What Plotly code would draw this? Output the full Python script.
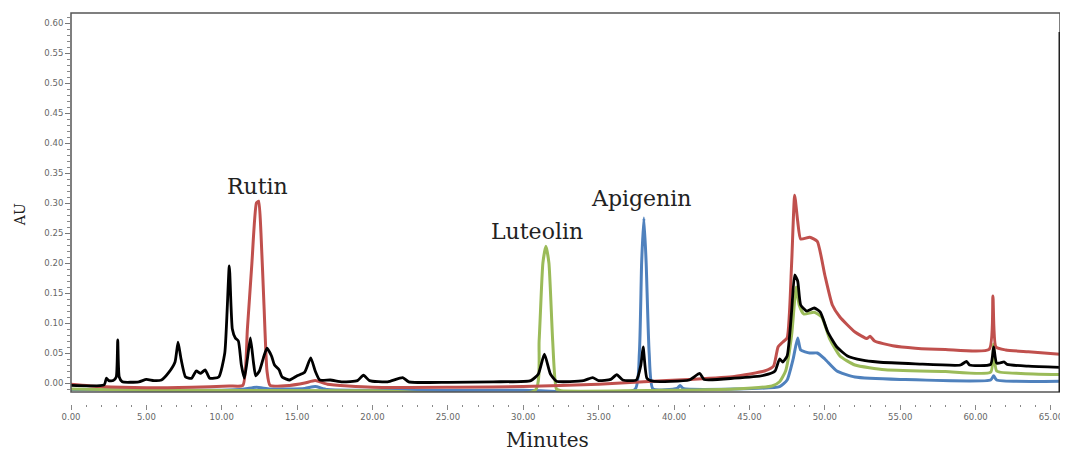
import plotly.graph_objects as go

# ---------------- data (minutes, AU) ----------------
black_t = [0.0, 2.2, 2.35, 2.5, 2.8, 3.0, 3.1, 3.2, 3.4, 4.5, 5.0, 5.5, 6.0, 6.5, 6.9, 7.1, 7.3, 7.6,
           8.0, 8.3, 8.6, 8.9, 9.2, 9.8, 10.2, 10.5, 10.7, 10.9, 11.1, 11.3, 11.5, 11.7, 11.9, 12.1,
           12.25, 12.5, 12.8, 13.0, 13.3, 13.5, 13.8, 14.0, 14.5, 15.0, 15.5, 15.9, 16.2, 16.5, 17.2,
           18.0, 19.0, 19.4, 19.8, 21.0, 22.0, 22.4, 25.0, 28.0, 30.5, 31.0, 31.4, 31.8, 32.2, 34.0,
           34.6, 35.0, 35.8, 36.2, 36.6, 37.5, 37.8, 37.95, 38.2, 38.6, 41.0, 41.7, 42.0, 44.0, 46.0,
           46.7, 47.0, 47.2, 47.5, 47.8, 48.0, 48.2, 48.4, 48.8, 49.3, 49.7, 50.2, 50.8, 51.5, 52.5,
           53.5, 56.0, 59.0, 59.4, 59.6, 61.0, 61.2, 61.4, 61.9, 62.1, 63.5, 65.6]
black_v = [-0.004, -0.003, 0.008, 0.004, 0.004, 0.010, 0.072, 0.010, 0.002, 0.002, 0.006, 0.004, 0.005,
           0.018, 0.035, 0.068, 0.040, 0.010, 0.008, 0.020, 0.016, 0.022, 0.008, 0.010, 0.050, 0.195,
           0.090, 0.075, 0.070, 0.030, 0.008, 0.040, 0.075, 0.035, 0.012, 0.020, 0.045, 0.058, 0.045,
           0.030, 0.022, 0.010, 0.005, 0.012, 0.018, 0.042, 0.020, 0.005, 0.005, 0.002, 0.004, 0.013,
           0.004, 0.002, 0.009, 0.002, 0.001, 0.002, 0.004, 0.015, 0.048, 0.015, 0.003, 0.004, 0.009,
           0.004, 0.006, 0.014, 0.005, 0.005, 0.030, 0.060, 0.008, 0.003, 0.005, 0.016, 0.006, 0.008,
           0.013, 0.020, 0.040, 0.035, 0.045, 0.120, 0.180, 0.170, 0.130, 0.120, 0.125, 0.118, 0.085,
           0.060, 0.045, 0.038, 0.035, 0.032, 0.030, 0.036, 0.030, 0.031, 0.060, 0.033, 0.035, 0.031,
           0.028, 0.026]

rutin_t = [0.0, 2.0, 5.0, 8.0, 10.5, 11.4, 11.7, 12.0, 12.3, 12.45, 12.6, 12.8, 13.0, 13.2, 14.5, 15.5,
           16.2, 17.0, 20.0, 30.0, 35.0, 38.0, 41.0, 44.0, 46.0, 46.6, 46.9, 47.2, 47.5, 47.8, 48.0,
           48.2, 48.4, 49.0, 49.5, 50.0, 50.5, 51.0, 52.0, 52.8, 53.0, 53.3, 54.5, 56.0, 58.0, 60.9,
           61.15, 61.35, 62.0, 63.5, 65.6]
rutin_v = [-0.002, -0.006, -0.008, -0.007, -0.005, -0.004, 0.090, 0.200, 0.300, 0.303, 0.250, 0.130,
           0.020, -0.004, -0.004, 0.000, 0.004, -0.002, -0.007, -0.006, -0.002, 0.002, 0.006, 0.011,
           0.020, 0.028, 0.060, 0.068, 0.075, 0.200, 0.313, 0.270, 0.240, 0.243, 0.236, 0.180, 0.130,
           0.110, 0.085, 0.074, 0.078, 0.070, 0.062, 0.058, 0.056, 0.056, 0.145, 0.060, 0.055, 0.052,
           0.048]

luteolin_t = [0.0, 5.0, 20.0, 30.8, 31.05, 31.3, 31.5, 31.7, 31.95, 32.2, 32.5, 40.0, 44.0, 46.5, 47.0,
              47.4, 47.8, 48.1, 48.3, 48.6, 49.3, 49.8, 50.3, 51.0, 52.0, 54.0, 58.0, 61.0, 61.2, 61.4,
              63.0, 65.6]
luteolin_v = [-0.010, -0.012, -0.013, -0.012, 0.070, 0.200, 0.228, 0.200, 0.070, -0.010, -0.013, -0.012,
              -0.010, -0.005, 0.002, 0.020, 0.080, 0.160, 0.130, 0.115, 0.118, 0.110, 0.075, 0.045,
              0.030, 0.022, 0.019, 0.018, 0.065, 0.020, 0.016, 0.014]

apigenin_t = [0.0, 10.0, 11.5, 12.3, 13.2, 15.5, 16.2, 17.0, 30.0, 37.4, 37.7, 37.85, 38.0, 38.15,
              38.35, 38.6, 40.2, 40.4, 40.6, 44.0, 47.0, 47.5, 47.9, 48.2, 48.4, 49.0, 49.5, 50.0,
              50.8, 52.0, 55.0, 61.0, 61.2, 61.4, 65.6]
apigenin_v = [-0.011, -0.012, -0.010, -0.007, -0.010, -0.009, -0.006, -0.011, -0.012, -0.011, 0.050,
              0.200, 0.275, 0.200, 0.050, -0.010, -0.009, -0.004, -0.009, -0.010, -0.006, 0.005, 0.040,
              0.075, 0.055, 0.050, 0.050, 0.040, 0.020, 0.010, 0.006, 0.005, 0.012, 0.005, 0.003]

y_ticks = [0.00, 0.05, 0.10, 0.15, 0.20, 0.25, 0.30, 0.35, 0.40, 0.45, 0.50, 0.55, 0.60]
x_ticks = [0, 5, 10, 15, 20, 25, 30, 35, 40, 45, 50, 55, 60, 65]

peak_labels = ["Rutin", "Luteolin", "Apigenin"]
peak_label_t = [12.4, 30.9, 37.8]
peak_label_v = [0.327, 0.252, 0.308]

RED = "#c0504d"
GREEN = "#9bbb59"
BLUE = "#4f81bd"
SERIF = "DejaVu Serif"

fig = go.Figure()
fig.add_trace(go.Scatter(x=apigenin_t, y=apigenin_v, mode="lines",
                         line=dict(color=BLUE, width=3, shape="spline", smoothing=0.5)))
fig.add_trace(go.Scatter(x=luteolin_t, y=luteolin_v, mode="lines",
                         line=dict(color=GREEN, width=3, shape="spline", smoothing=0.5)))
fig.add_trace(go.Scatter(x=rutin_t, y=rutin_v, mode="lines",
                         line=dict(color=RED, width=3, shape="spline", smoothing=0.5)))
fig.add_trace(go.Scatter(x=black_t, y=black_v, mode="lines",
                         line=dict(color="black", width=2.8, shape="spline", smoothing=0.5)))

for txt, t, v in zip(peak_labels, peak_label_t, peak_label_v):
    fig.add_annotation(x=t, y=v, xref="x", yref="y", text=txt, showarrow=False,
                       xanchor="center", yanchor="middle",
                       font=dict(family=SERIF, size=22, color="#222"))

fig.add_annotation(xref="paper", yref="paper", x=0, y=0.483, xshift=-51, text="AU", textangle=-90,
                   xanchor="center", yanchor="middle",
                   showarrow=False, font=dict(family=SERIF, size=14, color="#222"))
fig.add_annotation(xref="paper", yref="paper", x=0.482, y=0, yshift=-36, text="Minutes",
                   xanchor="center", yanchor="middle",
                   showarrow=False, font=dict(family=SERIF, size=20, color="#222"))

# frame
fig.add_shape(type="rect", xref="x domain", yref="y domain", x0=0, x1=1, y0=0, y1=1,
              line=dict(color="#555", width=1.5))
fig.add_shape(type="line", xref="x domain", yref="y domain", x0=1, x1=1, y0=0, y1=0.95,
              line=dict(color="#222", width=3))

fig.update_layout(
    width=1068, height=451,
    margin=dict(l=63, r=16, t=5, b=55, autoexpand=False),
    plot_bgcolor="white", paper_bgcolor="white",
    showlegend=False,
    xaxis=dict(range=[0, 65.6], anchor="free", position=0, showgrid=False, zeroline=False,
               automargin=False,
               showline=False, tickvals=x_ticks, ticktext=[f"{v:.2f}" for v in x_ticks],
               ticks="outside", ticklen=5, tickcolor="#888", tickwidth=1,
               minor=dict(dtick=1, ticks="outside", ticklen=2, tickcolor="#888"),
               tickfont=dict(family="DejaVu Sans", size=8.5, color="#666")),
    yaxis=dict(range=[-0.015, 0.6167], domain=[0.0307, 1], showgrid=False, zeroline=False,
               automargin=False,
               showline=False, tickvals=y_ticks, ticktext=[f"{v:.2f}" for v in y_ticks],
               ticks="outside", ticklen=5, tickcolor="#777", tickwidth=1,
               minor=dict(dtick=0.01, ticks="outside", ticklen=3, tickcolor="#888"),
               tickfont=dict(family="DejaVu Sans", size=8.5, color="#666")),
)

fig.write_html("out.html")
